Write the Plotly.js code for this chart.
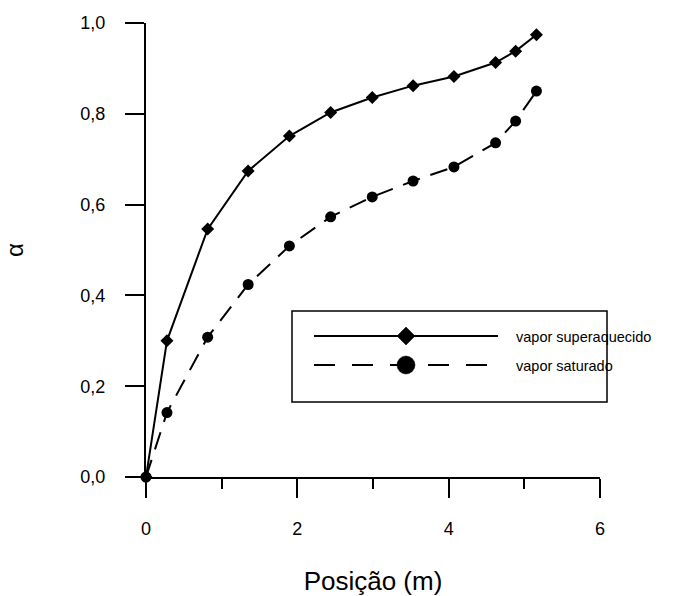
<!DOCTYPE html>
<html>
<head>
<meta charset="utf-8">
<script src="https://cdn.plot.ly/plotly-3.0.1.min.js"></script>
<style>html,body{margin:0;padding:0;background:#fff;}#chart{width:679px;height:596px;}</style>
</head>
<body>
<div id="chart"></div>
<script>
// Data
const posicao = [0, 0.277, 0.815, 1.35, 1.895, 2.44, 2.99, 3.53, 4.07, 4.62, 4.885, 5.16];
const alphaSuperaquecido = [0, 0.300, 0.546, 0.674, 0.751, 0.803, 0.836, 0.862, 0.882, 0.913, 0.938, 0.974];
const alphaSaturado = [0, 0.142, 0.308, 0.424, 0.509, 0.573, 0.617, 0.652, 0.683, 0.736, 0.784, 0.850];
const seriesNames = ["vapor superaquecido", "vapor saturado"];
const xTickVals = [0, 2, 4, 6];
const xTickText = ["0", "2", "4", "6"];
const yTickVals = [0, 0.2, 0.4, 0.6, 0.8, 1.0];
const yTickText = ["0,0", "0,2", "0,4", "0,6", "0,8", "1,0"];

const FONT = "Arial, 'Liberation Sans', sans-serif";

const traces = [
  {
    x: posicao, y: alphaSaturado, name: seriesNames[1], type: "scatter", mode: "lines+markers",
    line: {color: "#000", width: 2, dash: "18px,11px"},
    marker: {symbol: "circle", size: 11, color: "#000"},
    showlegend: false, cliponaxis: false
  },
  {
    x: posicao, y: alphaSuperaquecido, name: seriesNames[0], type: "scatter", mode: "lines+markers",
    line: {color: "#000", width: 2},
    marker: {symbol: "diamond", size: 10, color: "#000"},
    showlegend: false, cliponaxis: false
  }
];

// Manual legend (box, sample lines, markers) in paper coords
const W = 454, H = 454; // plot area px
function px(xp){ return (xp - 146) / W; }
function py(yp){ return (477 - yp) / H; }
const shapes = [
  {type: "rect", xref: "paper", yref: "paper", x0: px(292), x1: px(607), y0: py(402), y1: py(311),
   line: {color: "#000", width: 1.5}, fillcolor: "rgba(255,255,255,0)"},
  {type: "line", xref: "paper", yref: "paper", x0: px(314), x1: px(498), y0: py(336), y1: py(336),
   line: {color: "#000", width: 2}},
  {type: "line", xref: "paper", yref: "paper", x0: px(314), x1: px(494), y0: py(365), y1: py(365),
   line: {color: "#000", width: 2, dash: "21px,17px"}},
  {type: "path", xref: "paper", yref: "paper",
   path: "M" + px(397) + "," + py(336) + " L" + px(406) + "," + py(327) + " L" + px(415) + "," + py(336) + " L" + px(406) + "," + py(345) + " Z",
   fillcolor: "#000", line: {color: "#000", width: 0.5}},
  {type: "circle", xref: "paper", yref: "paper", x0: px(397), x1: px(415), y0: py(374), y1: py(356),
   fillcolor: "#000", line: {color: "#000", width: 0.5}}
];
const annotations = [
  {xref: "paper", yref: "paper", x: px(514), y: py(337), text: seriesNames[0], showarrow: false,
   xanchor: "left", yanchor: "middle", font: {family: FONT, size: 14.5, color: "#000"}},
  {xref: "paper", yref: "paper", x: px(514), y: py(366), text: seriesNames[1], showarrow: false,
   xanchor: "left", yanchor: "middle", font: {family: FONT, size: 14.5, color: "#000"}}
];

const layout = {
  width: 679, height: 596,
  margin: {l: 146, r: 79, t: 23, b: 119, pad: 0},
  paper_bgcolor: "#fff", plot_bgcolor: "#fff",
  font: {family: FONT, color: "#000", size: 18},
  showlegend: false,
  xaxis: {
    range: [0, 6], tickvals: xTickVals, ticktext: xTickText,
    showline: true, linecolor: "#000", linewidth: 2,
    ticks: "outside", ticklen: 19, tickwidth: 2, tickcolor: "#000",
    minor: {dtick: 1, tick0: 0, ticks: "outside", ticklen: 10, tickwidth: 2, tickcolor: "#000", showgrid: false},
    showgrid: false, zeroline: false, ticklabelstandoff: 15,
    tickfont: {family: FONT, size: 18},
    title: {text: "Posição (m)", font: {family: FONT, size: 26}, standoff: 35},
    automargin: false
  },
  yaxis: {
    range: [0, 1], tickvals: yTickVals, ticktext: yTickText,
    showline: true, linecolor: "#000", linewidth: 2,
    ticks: "outside", ticklen: 19, tickwidth: 2, tickcolor: "#000",
    showgrid: false, zeroline: false, ticklabelstandoff: 16,
    tickfont: {family: FONT, size: 18},
    title: {text: "α", font: {family: FONT, size: 24}, standoff: 50},
    automargin: false
  },
  shapes: shapes,
  annotations: annotations
};

Plotly.newPlot("chart", traces, layout, {staticPlot: true, displayModeBar: false});
</script>
</body>
</html>
